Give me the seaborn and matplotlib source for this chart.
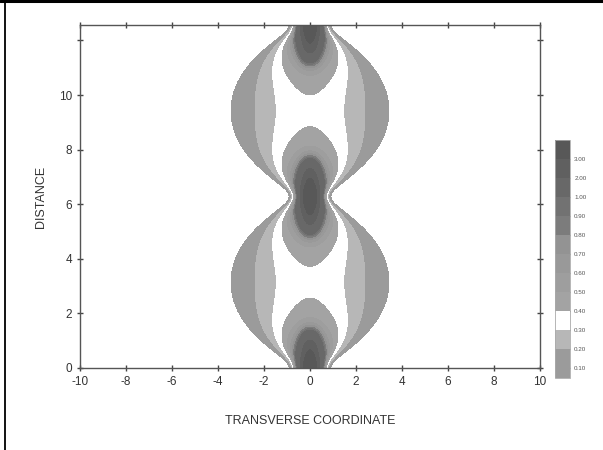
import numpy as np
import matplotlib
matplotlib.use("Agg")
import matplotlib.pyplot as plt
from matplotlib.colors import ListedColormap, BoundaryNorm
from matplotlib.cm import ScalarMappable
from matplotlib.lines import Line2D
import seaborn as sns

# ---- data ----
levels = [0.10, 0.20, 0.30, 0.40, 0.50, 0.60, 0.70, 0.80, 0.90, 1.00, 2.00, 3.00]
level_labels = ["0.10", "0.20", "0.30", "0.40", "0.50", "0.60", "0.70",
                "0.80", "0.90", "1.00", "2.00", "3.00"]
band_colors = ["#9b9b9b", "#b7b7b7", "#ffffff", "#a3a3a3", "#9e9e9e", "#999999",
               "#939393", "#7c7c7c", "#727272", "#686868", "#606060"]
over_color = "#585858"
under_color = "#9b9b9b"

x_ticks = [-10, -8, -6, -4, -2, 0, 2, 4, 6, 8, 10]
y_ticks = [0, 2, 4, 6, 8, 10, 12]
y_tick_labels = ["0", "2", "4", "6", "8", "10", ""]

# breathing-beam parameters
waist_width = [0.50]        # broad beam half-width at a focus
max_width = [2.96]          # broad beam half-width midway between foci
beam_power = [1.135]
core_peak = [2.20]          # extra on-axis core at each focus
core_width = [0.41]
core_length = [1.20]
period = [2 * np.pi]
distance_range = [0.0, 4 * np.pi]
transverse_range = [-10.0, 10.0]

# ---- field ----
x = np.linspace(transverse_range[0], transverse_range[1], 1201)
z = np.linspace(distance_range[0], distance_range[1], 901)
X, Z = np.meshgrid(x, z)
ph = np.pi * Z / period[0]
w = np.sqrt(waist_width[0] ** 2 * np.cos(ph) ** 2 + max_width[0] ** 2 * np.sin(ph) ** 2)
dz = np.abs(np.mod(Z + period[0] / 2, period[0]) - period[0] / 2)
field = (beam_power[0] / w * np.exp(-X ** 2 / w ** 2)
         + core_peak[0] * np.exp(-(dz / core_length[0]) ** 3.5) * np.exp(-X ** 2 / core_width[0] ** 2))

# ---- plot ----
sns.set_theme(style="white")
plt.rcParams["font.family"] = ["Liberation Sans", "DejaVu Sans"]

fig = plt.figure(figsize=(6.03, 4.50), dpi=100)
ax = fig.add_axes([80 / 603, 82 / 450, 460 / 603, 343 / 450])

cmap = ListedColormap(band_colors)
cmap.set_over(over_color)
cmap.set_under(under_color)
norm = BoundaryNorm(levels, cmap.N)

ax.contourf(X, Z, field, levels=levels, cmap=cmap, norm=norm, extend="max")

ax.set_xlim(transverse_range)
ax.set_ylim(distance_range)
ax.set_xticks(x_ticks)
ax.set_xticklabels([str(t) for t in x_ticks])
ax.set_yticks(y_ticks)
ax.set_yticklabels(y_tick_labels)
ax.tick_params(axis="both", which="both", direction="inout", length=5, width=1,
               color="#444444", labelsize=8.5, labelcolor="#333333",
               top=True, right=True, bottom=True, left=True, pad=3)
for sp in ax.spines.values():
    sp.set_color("#555555")
    sp.set_linewidth(1.0)

ax.set_xlabel("TRANSVERSE COORDINATE", fontsize=9, color="#333333", labelpad=20)
ax.set_ylabel("DISTANCE", fontsize=9, color="#333333", labelpad=9)

# colorbar
cax = fig.add_axes([555 / 603, 72 / 450, 15 / 603, 238 / 450])
sm = ScalarMappable(norm=norm, cmap=cmap)
cb = fig.colorbar(sm, cax=cax, extend="both", extendrect=True,
                  extendfrac=(0.05, 1 / 11), spacing="uniform", ticks=levels)
cb.ax.set_yticklabels(level_labels)
cb.ax.tick_params(direction="in", length=10.8, width=1, color="#5a5a5a",
                  labelsize=4.5, labelcolor="#555555", pad=3)
cb.outline.set_edgecolor("#aaaaaa")
cb.outline.set_linewidth(0.6)

# figure frame (top and left)
fig.add_artist(Line2D([0, 1], [0.997, 0.997], transform=fig.transFigure,
                      color="black", lw=2.2))
fig.add_artist(Line2D([4.5 / 603, 4.5 / 603], [0, 1], transform=fig.transFigure,
                      color="black", lw=1.3))

fig.savefig("out.png", dpi=100)
